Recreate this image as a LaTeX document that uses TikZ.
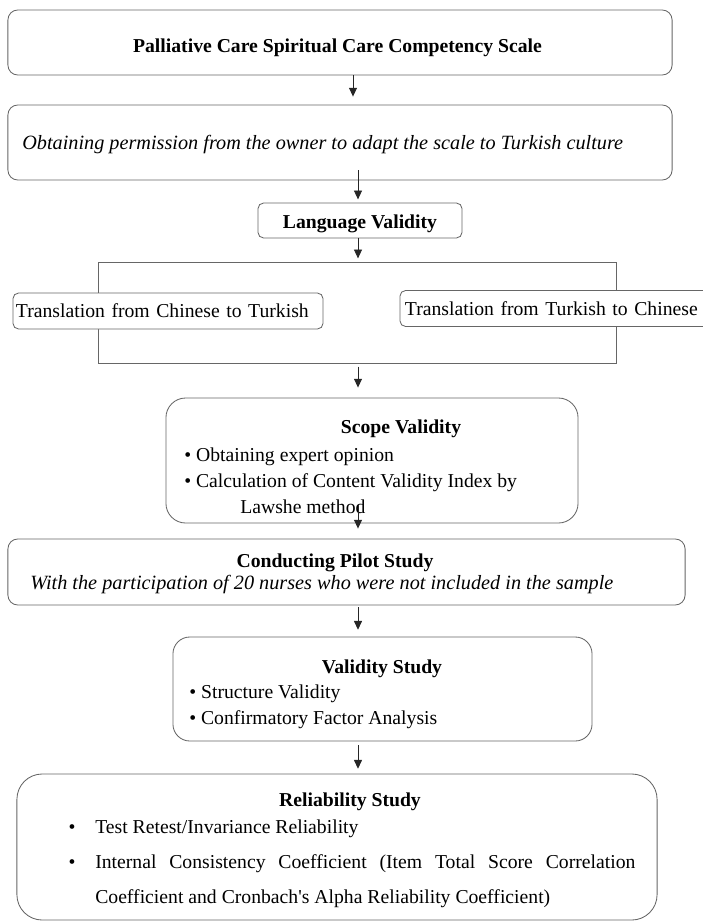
\documentclass[tikz,border=0pt]{standalone}
\usepackage{fontspec}
\setmainfont{Liberation Serif}
\usetikzlibrary{arrows.meta,positioning}

\begin{document}
\begin{tikzpicture}[x=0.025cm,y=-0.025cm,
  box/.style={draw=black!60,line width=0.6pt,rounded corners=#1,inner sep=0pt,fill=white},
  box/.default=4pt,
  txt/.style={font=\fontsize{14}{17}\selectfont,inner sep=0pt},
  hd/.style={font=\fontsize{14}{17}\selectfont\bfseries,inner sep=0pt},
  it/.style={font=\fontsize{14.4}{17}\selectfont\itshape,inner sep=0pt},
  arr/.style={draw=black!85,line width=0.6pt,-{Triangle[length=0.22cm,width=0.2cm]}}]
 \useasboundingbox (0,0) rectangle (703,922);
 \coordinate (axisA) at (353,0);
 \coordinate (axis) at (358,0);
 % top part
 \node[box=7pt,minimum width=16.6cm,minimum height=1.625cm] (scale) at (340,42.5) {};
 \node[hd] (scaleT) at (337.5,48) {Palliative Care Spiritual Care Competency Scale};
 \node[box=7pt,minimum width=16.6cm,minimum height=1.875cm] (perm) at (340,142.5) {};
 \node[it,anchor=west] (permT) at (22,145) {Obtaining permission from the owner to adapt the scale to Turkish culture};
 \node[box,minimum width=5.1cm,minimum height=0.875cm] (lang) at (360,220.5) {};
 \node[hd] (langT) at (360,223.5) {Language Validity};
 % translation bracket
 \node[draw=black!60,line width=0.6pt,minimum width=12.95cm,minimum height=2.525cm] (split) at (357.5,312.5) {};
 \node[box,minimum height=0.9cm,txt,text width=7.6cm,align=left,inner xsep=0.075cm] (tr1) at (168,311) {Translation from Chinese to Turkish};
 \node[box,minimum height=0.9cm,txt,text width=7.5cm,align=left,inner xsep=0.125cm] (tr2) at (555,308.5) {Translation from Turkish to Chinese};
 % scope validity
 \node[box=14pt,minimum width=10.3cm,minimum height=3.125cm] (scope) at (372,460.5) {};
 \node[hd] (scopeT) at (401,428.5) {Scope Validity};
 \node[txt,anchor=west] (scopeA) at (184,457) {• Obtaining expert opinion};
 \node[txt,anchor=west] (scopeB) at (184,483) {• Calculation of Content Validity Index by};
 \node[txt,anchor=west] (scopeC) at (240,507) {Lawshe method};
 % pilot study
 \node[box=7pt,minimum width=16.925cm,minimum height=1.65cm] (pilot) at (346.5,572) {};
 \node[hd] (pilotT) at (335,563) {Conducting Pilot Study};
 \node[it,anchor=west] (pilotA) at (30,585) {With the participation of 20 nurses who were not included in the sample};
 % validity study
 \node[box=12pt,minimum width=10.475cm,minimum height=2.6cm] (valid) at (382.5,689) {};
 \node[hd] (validT) at (382,669) {Validity Study};
 \node[txt,anchor=west] (validA) at (189,694) {• Structure Validity};
 \node[txt,anchor=west] (validB) at (189,720) {• Confirmatory Factor Analysis};
 % reliability study
 \node[box=18pt,minimum width=16cm,minimum height=3.65cm] (relia) at (337,847) {};
 \node[hd] (reliaT) at (350,801.5) {Reliability Study};
 \node[txt] (dotA) at (72,829) {•};
 \node[txt,anchor=west] (reliaA) at (95,829) {Test Retest/Invariance Reliability};
 \node[txt] (dotB) at (72,864) {•};
 \node[font=\fontsize{14}{24.9}\selectfont,inner sep=0pt,text width=13.5cm,align=justify,anchor=north west] (reliaB) at (95,854) {Internal Consistency Coefficient (Item Total Score Correlation\linebreak Coefficient and Cronbach\textquotesingle s Alpha Reliability Coefficient)};
 % arrows
 \draw[arr,shorten >=0.2cm] (scale.south -| axisA)--(perm.north -| axisA);
 \draw[arr,shorten <=-0.25cm,shorten >=0.08cm] (perm.south -| axis)--(lang.north -| axis);
 \draw[arr,shorten >=0.08cm] (lang.south -| axis)--(split.north -| axis);
 \draw[arr,shorten <=0.08cm,shorten >=0.25cm] (split.south -| axis)--(scope.north -| axis);
 \draw[arr,shorten >=0.25cm] ([yshift=0.45cm]scope.south -| axis)--(pilot.north -| axis);
 \draw[arr,shorten <=0.05cm,shorten >=0.17cm] (pilot.south -| axis)--(valid.north -| axis);
 \draw[arr,shorten <=0.1cm,shorten >=0.12cm] (valid.south -| axis)--(relia.north -| axis);
\end{tikzpicture}
\end{document}
